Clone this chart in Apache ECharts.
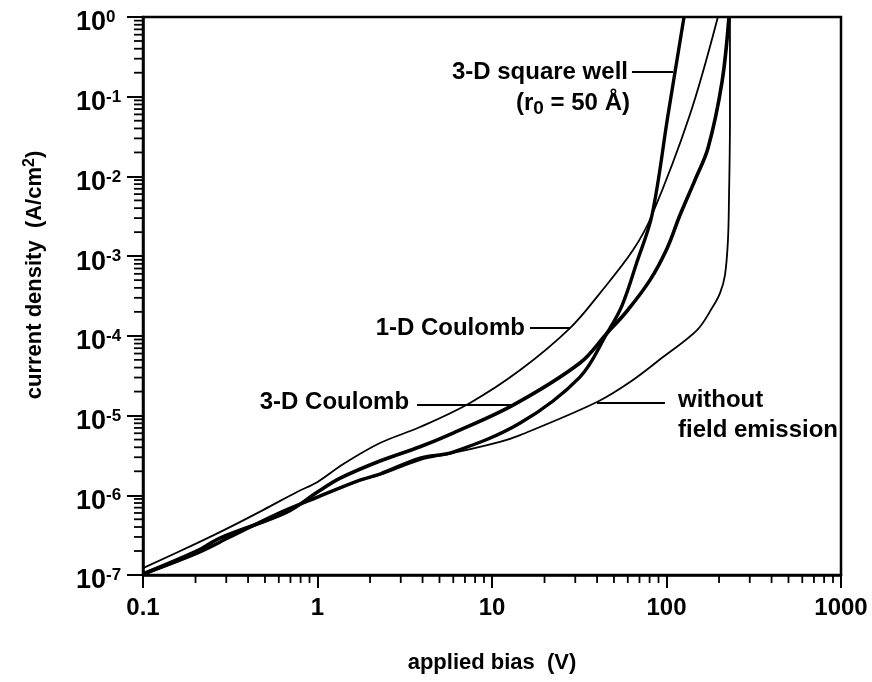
<!DOCTYPE html>
<html><head><meta charset="utf-8">
<script src="https://cdn.jsdelivr.net/npm/echarts@6/dist/echarts.min.js"></script>
<style>html,body{margin:0;padding:0;background:#fff}#c{width:872px;height:682px}</style>
</head><body><div id="c"></div>
<script>
const FONT = '"Liberation Sans", Arial, Helvetica, sans-serif';

// ---- axis tick labels ----
const xTickLabels = ['0.1', '1', '10', '100', '1000'];
const yTickExponents = ['-7', '-6', '-5', '-4', '-3', '-2', '-1', '0'];
const xDecades = [0.1, 1, 10, 100];
const yDecades = [1e-7, 1e-6, 1e-5, 1e-4, 1e-3, 1e-2, 1e-1];
const minorMultipliers = [2, 3, 4, 5, 6, 7, 8, 9];

// ---- series: applied bias (V) vs current density (A/cm^2) ----
const coulomb1D_bias = [0.1, 0.204, 0.315, 0.487, 0.763, 1.0, 1.40, 2.28, 3.87, 7.48, 14.5, 28.0, 41.6, 64.3, 82.6, 136, 197];
const coulomb1D_j    = [1.22e-7, 2.51e-7, 3.99e-7, 6.52e-7, 1.10e-6, 1.47e-6, 2.45e-6, 4.52e-6, 7.18e-6, 1.44e-5, 3.72e-5, 1.25e-4, 3.44e-4, 1.19e-3, 3.28e-3, 0.0589, 1];

const coulomb3D_bias = [0.1, 0.204, 0.276, 0.668, 1.0, 1.35, 2.28, 3.87, 5.98, 13.2, 31.9, 45.6, 59.4, 80.4, 100.7, 119.5, 145.6, 173, 208, 228];
const coulomb3D_j    = [1.03e-7, 2.0e-7, 2.9e-7, 6.15e-7, 1.10e-6, 1.64e-6, 2.69e-6, 4.06e-6, 6.03e-6, 1.35e-5, 4.56e-5, 1.08e-4, 2.05e-4, 5.0e-4, 1.25e-3, 3.28e-3, 9.0e-3, 0.0227, 0.153, 1];

const squareWell_bias = [0.1, 0.204, 0.315, 0.586, 1.0, 1.75, 2.28, 3.87, 5.98, 14.5, 31.9, 45.6, 55.6, 67.7, 82.6, 102, 126];
const squareWell_j    = [1.03e-7, 1.88e-7, 2.99e-7, 5.81e-7, 9.49e-7, 1.55e-6, 1.85e-6, 2.93e-6, 3.48e-6, 8.05e-6, 3.04e-5, 1.08e-4, 2.4e-4, 8.43e-4, 3.28e-3, 0.0589, 1];

const noField_bias = [0.1, 0.204, 0.315, 0.586, 1.0, 1.75, 2.28, 3.87, 5.98, 11.1, 14.5, 40.0, 61.8, 95.5, 149.6, 182.3, 202.6, 216.3, 225, 228, 231, 231];
const noField_j    = [1.0e-7, 1.88e-7, 2.99e-7, 5.81e-7, 9.49e-7, 1.55e-6, 1.80e-6, 2.77e-6, 3.39e-6, 4.69e-6, 5.69e-6, 1.48e-5, 2.63e-5, 5.42e-5, 1.18e-4, 2.23e-4, 3.44e-4, 5.79e-4, 1.59e-3, 5.06e-3, 0.05, 1];

// ---- annotation leader lines (data coords: [bias, current]) ----
const leaderSquareWell = [[63.4, 0.204], [109, 0.204]];
const leader1D = [[16.5, 1.25e-4], [28.0, 1.25e-4]];
const leader3D = [[3.72, 1.35e-5], [13.2, 1.35e-5]];
const leaderNoField = [[40.0, 1.44e-5], [98, 1.44e-5]];

const X_MIN = 0.1, X_MAX = 1000, Y_MIN = 1e-7, Y_MAX = 1;

function zip(a, b) { return a.map((v, i) => [v, b[i]]); }

const xMinor = [], yMinor = [];
xDecades.forEach(d => minorMultipliers.forEach(m => xMinor.push([d * m, Y_MIN])));
yDecades.forEach(d => minorMultipliers.forEach(m => yMinor.push([X_MIN, d * m])));

const chart = echarts.init(document.getElementById('c'), null, { renderer: 'canvas' });

function lineSeries(name, data, width) {
  return {
    name, type: 'line', data, showSymbol: false, symbol: 'none',
    smooth: 0.35, clip: true,
    lineStyle: { color: '#000', width }, z: 3, silent: true
  };
}

const option = {
  animation: false,
  backgroundColor: '#fff',
  textStyle: { fontFamily: FONT, color: '#000' },
  grid: { left: 143, right: 31, top: 17, bottom: 107, show: true, borderColor: '#000', borderWidth: 2.5, backgroundColor: 'transparent' },
  xAxis: {
    type: 'log', logBase: 10, min: X_MIN, max: X_MAX,
    name: 'applied bias  (V)', nameLocation: 'middle', nameGap: 77,
    nameTextStyle: { fontSize: 22, fontWeight: 'bold', color: '#000', fontFamily: FONT },
    axisLine: { show: true, lineStyle: { color: '#000', width: 2.5 } },
    axisTick: { show: true, inside: false, length: 13, lineStyle: { color: '#000', width: 2 } },
    splitLine: { show: false },
    axisLabel: {
      margin: 21, fontSize: 24, fontWeight: 'bold', color: '#000', fontFamily: FONT,
      formatter: v => xTickLabels[Math.round(Math.log10(v)) + 1]
    }
  },
  yAxis: {
    type: 'log', logBase: 10, min: Y_MIN, max: Y_MAX,
    axisLine: { show: true, lineStyle: { color: '#000', width: 2.5 } },
    axisTick: { show: true, inside: false, length: 16, lineStyle: { color: '#000', width: 2 } },
    splitLine: { show: false },
    axisLabel: {
      margin: 67, align: 'left', color: '#000', padding: [12, 0, 0, 0],
      formatter: v => '{b|10}{s|' + yTickExponents[Math.round(Math.log10(v)) + 7] + '}',
      rich: {
        b: { fontSize: 27, fontWeight: 'bold', fontFamily: FONT, color: '#000', lineHeight: 28 },
        s: { fontSize: 17, fontWeight: 'bold', fontFamily: FONT, color: '#000', verticalAlign: 'top', lineHeight: 17 }
      }
    }
  },
  series: [
    lineSeries('1-D Coulomb', zip(coulomb1D_bias, coulomb1D_j), 1.8),
    lineSeries('3-D Coulomb', zip(coulomb3D_bias, coulomb3D_j), 3.6),
    lineSeries('3-D square well', zip(squareWell_bias, squareWell_j), 3.4),
    Object.assign(lineSeries('without field emission', zip(noField_bias, noField_j), 1.8), {
      markLine: {
        silent: true, symbol: ['none', 'none'], animation: false,
        label: { show: false },
        lineStyle: { color: '#000', width: 1.8, type: 'solid' },
        data: [leaderSquareWell, leader1D, leader3D, leaderNoField].map(l => [
          { coord: l[0] }, { coord: l[1] }
        ])
      }
    }),
    {
      type: 'custom', silent: true, clip: false, z: 4,
      data: xMinor,
      renderItem: (params, api) => {
        const p = api.coord([api.value(0), api.value(1)]);
        return { type: 'line', shape: { x1: p[0], y1: p[1], x2: p[0], y2: p[1] + 8 }, style: { stroke: '#000', lineWidth: 1.8 } };
      }
    },
    {
      type: 'custom', silent: true, clip: false, z: 4,
      data: yMinor,
      renderItem: (params, api) => {
        const p = api.coord([api.value(0), api.value(1)]);
        return { type: 'line', shape: { x1: p[0] - 9, y1: p[1], x2: p[0], y2: p[1] }, style: { stroke: '#000', lineWidth: 1.8 } };
      }
    }
  ]
};
chart.setOption(option);

// ---- annotation texts, anchored to the leader lines ----
const annFont = 'bold 24px ' + FONT;
function px(pt) { return chart.convertToPixel({ gridIndex: 0 }, pt); }
const pSW = px(leaderSquareWell[0]);
const p1D = px(leader1D[0]);
const p3D = px(leader3D[0]);
const pNF = px(leaderNoField[1]);
const gridRect = chart.getModel().getComponent('grid').coordinateSystem.getRect();
const annRich = {
  n: { fontSize: 24, fontWeight: 'bold', fontFamily: FONT, fill: '#000', lineHeight: 30 },
  sub: { fontSize: 19, fontWeight: 'bold', fontFamily: FONT, fill: '#000', verticalAlign: 'bottom', lineHeight: 16 }
};
chart.setOption({
  graphic: [
    { type: 'text', x: pSW[0] - 4, y: pSW[1], style: { text: '3-D square well', font: annFont, fill: '#000', align: 'right', verticalAlign: 'middle' } },
    { type: 'text', x: pSW[0] - 2, y: pSW[1] + 31, style: { text: '{n|(r}{sub|0}{n| = 50 Å)}', rich: annRich, fill: '#000', align: 'right', verticalAlign: 'middle' } },
    { type: 'text', x: p1D[0] - 5, y: p1D[1], style: { text: '1-D Coulomb', font: annFont, fill: '#000', align: 'right', verticalAlign: 'middle' } },
    { type: 'text', x: p3D[0] - 8, y: p3D[1] - 3, style: { text: '3-D Coulomb', font: annFont, fill: '#000', align: 'right', verticalAlign: 'middle' } },
    { type: 'text', x: pNF[0] + 13, y: pNF[1] - 3, style: { text: 'without', font: annFont, fill: '#000', align: 'left', verticalAlign: 'middle' } },
    { type: 'text', x: pNF[0] + 13, y: pNF[1] + 27, style: { text: 'field emission', font: annFont, fill: '#000', align: 'left', verticalAlign: 'middle' } },
    {
      type: 'text', x: gridRect.x - 108, y: gridRect.y + gridRect.height / 2 - 21, rotation: Math.PI / 2,
      style: {
        text: '{t|current density  (A/cm}{s|2}{t|)}', align: 'center', verticalAlign: 'middle', fill: '#000',
        rich: {
          t: { fontSize: 22, fontWeight: 'bold', fontFamily: FONT, fill: '#000', lineHeight: 26 },
          s: { fontSize: 16, fontWeight: 'bold', fontFamily: FONT, fill: '#000', verticalAlign: 'top', lineHeight: 16 }
        }
      }
    }
  ]
});
</script>
</body></html>
